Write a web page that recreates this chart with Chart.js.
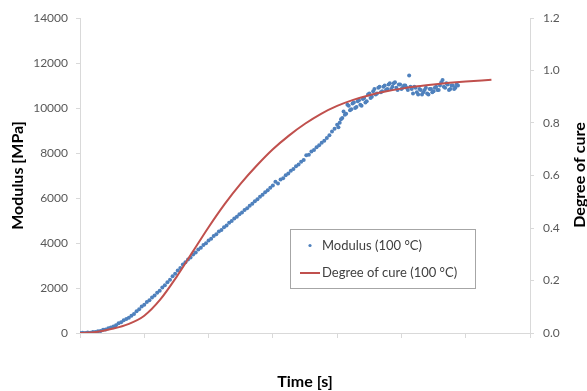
<!DOCTYPE html>
<html lang="en">
<head>
    <meta charset="UTF-8">
    <title>Modulus and degree of cure</title>
    <script src="https://cdn.jsdelivr.net/npm/chart.js"></script>
    <style>
        body {
            margin: 0;
            padding: 0;
            background-color: #ffffff;
        }
        .chart-box {
            width: 587px;
            height: 391px;
        }
    </style>
</head>
<body>
    <div class="chart-box">
        <canvas id="cureChart"></canvas>
    </div>
    <script>
        // Degree of cure (right axis), sampled every 250 s
        const cureTimes = [0, 250, 500, 750, 1000, 1250, 1500, 1750, 2000, 2250, 2500, 2750, 3000,
            3250, 3500, 3750, 4000, 4250, 4500, 4750, 5000, 5250, 5500, 5750, 6000, 6250, 6400];
        const cureValues = [0, 0.004, 0.016, 0.034, 0.066, 0.128, 0.213, 0.308, 0.403, 0.491, 0.569, 0.638, 0.700,
            0.752, 0.797, 0.835, 0.865, 0.888, 0.906, 0.920, 0.931, 0.940, 0.947, 0.953, 0.958, 0.962, 0.965];

        // Modulus (left axis), one reading every 40 s
        const modulusStep = 40;
        const modulusValues = [
            0, 10, 5, 20, 15, 40, 50, 80, 90, 140, 160, 215, 240, 290, 340, 430, 480, 570, 620, 680,
            770, 850, 970, 1060, 1180, 1260, 1380, 1460, 1580, 1670, 1790, 1880, 2020, 2120, 2260, 2370,
            2520, 2630, 2780, 2890,
            3040, 3140, 3270, 3360, 3490, 3580, 3710, 3790, 3910, 3990, 4110, 4190, 4310, 4390, 4510,
            4580, 4700, 4780, 4900, 4980, 5090, 5170, 5280, 5360, 5470, 5550, 5660, 5740, 5860, 5940,
            6060, 6140, 6260, 6340, 6460, 6560, 6720, 6650, 6820, 6880, 7010, 7090, 7210, 7290, 7410,
            7490, 7610, 7690, 7900, 7920, 8070, 8130, 8260, 8340, 8460, 8540, 8670, 8790, 8960, 9080, 9260,
            9350, 9560, 9700, 10150, 9900, 10200, 10000, 10300, 10150, 10400, 10250, 10600, 10450, 10750,
            10600, 10900, 10700, 10950, 10800, 11050, 10850, 11100, 10900, 11050, 10850, 11000, 10900,
            11450, 10850, 10950, 10700, 10850, 10600, 10800, 10650, 10850, 10700, 10900, 10800, 11000,
            11250, 10900, 11050, 10850, 11000, 10900, 11000
        ];
        // extra readings in the noisy plateau, every 40 s from 4020 s
        const modulusLateStart = 4020;
        const modulusLateValues = [
            9150, 9500, 9850, 9750, 10100, 9950, 10250, 10050, 10350, 10100, 10450, 10300, 10650, 10500,
            10850, 10650, 10950, 10750, 11000, 10850, 11100, 10950, 11150, 10800, 11050, 10900, 11000,
            10800, 10950, 10650, 10900, 10600, 10800, 10700, 10900, 10600, 10850, 10750, 10950, 10800,
            11150, 10950, 11100, 10800, 11000, 10850, 11050
        ];

        const modulusTicks = [0, 2000, 4000, 6000, 8000, 10000, 12000, 14000];
        const cureTicks = [0, 0.2, 0.4, 0.6, 0.8, 1.0, 1.2];

        const blue = '#4F81BD';
        const red = '#C0504D';
        const axisGrey = '#D9D9D9';
        const labelGrey = '#595959';

        Chart.defaults.font.family = 'Lato, sans-serif';
        Chart.defaults.animation = false;

        const modulusPoints = modulusValues.map((v, i) => ({ x: i * modulusStep, y: v }))
            .concat(modulusLateValues.map((v, i) => ({ x: modulusLateStart + i * modulusStep, y: v })));

        // Legend box inside the plot and the right axis title (reads bottom to top)
        const overlay = {
            id: 'overlay',
            afterDraw(chart) {
                const ctx = chart.ctx;
                ctx.save();
                ctx.fillStyle = '#ffffff';
                ctx.fillRect(290.5, 229.5, 185, 59);
                ctx.strokeStyle = '#A6A6A6';
                ctx.lineWidth = 1;
                ctx.strokeRect(290.5, 229.5, 185, 59);

                ctx.fillStyle = blue;
                ctx.beginPath();
                ctx.arc(310, 245.5, 1.6, 0, Math.PI * 2);
                ctx.fill();

                ctx.strokeStyle = red;
                ctx.lineWidth = 2;
                ctx.beginPath();
                ctx.moveTo(300, 273);
                ctx.lineTo(320, 273);
                ctx.stroke();

                ctx.fillStyle = '#404040';
                ctx.font = '13px Lato, sans-serif';
                ctx.textBaseline = 'middle';
                ctx.textAlign = 'left';
                ctx.fillText('Modulus (100 °C)', 322, 245.5);
                ctx.fillText('Degree of cure (100 °C)', 322, 273);

                ctx.translate(580, 175);
                ctx.rotate(-Math.PI / 2);
                ctx.fillStyle = '#000000';
                ctx.font = 'bold 16px Lato, sans-serif';
                ctx.textAlign = 'center';
                ctx.fillText('Degree of cure', 0, 0);
                ctx.restore();
            }
        };

        new Chart(document.getElementById('cureChart'), {
            type: 'scatter',
            data: {
                datasets: [
                    {
                        label: 'Degree of cure (100 °C)',
                        data: cureTimes.map((t, i) => ({ x: t, y: cureValues[i] })),
                        yAxisID: 'y2',
                        showLine: true,
                        borderColor: red,
                        borderWidth: 2,
                        pointRadius: 0,
                        cubicInterpolationMode: 'monotone',
                        order: 0
                    },
                    {
                        label: 'Modulus (100 °C)',
                        data: modulusPoints,
                        yAxisID: 'y',
                        backgroundColor: blue,
                        borderWidth: 0,
                        pointRadius: 2,
                        order: 1
                    }
                ]
            },
            options: {
                responsive: true,
                maintainAspectRatio: false,
                layout: { padding: { top: 18, left: 0, right: 0, bottom: 0 } },
                plugins: {
                    legend: { display: false },
                    tooltip: { enabled: false }
                },
                scales: {
                    x: {
                        type: 'linear',
                        min: 0,
                        max: 7000,
                        ticks: { display: false, stepSize: 1000 },
                        grid: { drawOnChartArea: false, drawTicks: true, tickLength: 5, color: axisGrey },
                        border: { color: axisGrey },
                        title: {
                            display: true,
                            text: 'Time [s]',
                            color: '#000000',
                            font: { size: 16, weight: 'bold', lineHeight: 1 },
                            padding: { top: 0, bottom: 1 }
                        },
                        afterFit: s => { s.height = 58; }
                    },
                    y: {
                        position: 'left',
                        min: 0,
                        max: 14000,
                        afterBuildTicks: s => { s.ticks = modulusTicks.map(v => ({ value: v })); },
                        ticks: { color: labelGrey, font: { size: 12 }, padding: 8, callback: v => String(v) },
                        grid: { drawOnChartArea: false, tickLength: 4, color: axisGrey },
                        border: { color: axisGrey },
                        title: {
                            display: true,
                            text: 'Modulus [MPa]',
                            color: '#000000',
                            font: { size: 16, weight: 'bold' },
                            padding: { top: 8, bottom: 0 }
                        },
                        afterFit: s => { s.width = 80; }
                    },
                    y2: {
                        position: 'right',
                        min: 0,
                        max: 1.2,
                        afterBuildTicks: s => { s.ticks = cureTicks.map(v => ({ value: v })); },
                        ticks: {
                            color: labelGrey,
                            font: { size: 12 },
                            padding: 9,
                            callback: v => v.toFixed(1)
                        },
                        grid: { drawOnChartArea: false, tickLength: 4, color: axisGrey },
                        border: { color: axisGrey },
                        afterFit: s => { s.width = 57; }
                    }
                }
            },
            plugins: [overlay]
        });
    </script>
</body>
</html>
